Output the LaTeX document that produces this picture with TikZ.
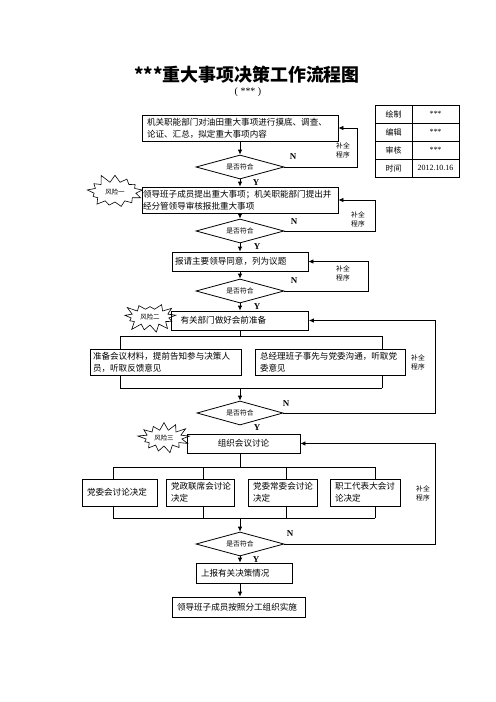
\documentclass[tikz,border=0pt]{standalone}
\usepackage{fontspec}
\setmainfont{Liberation Serif}
\newfontfamily\cjk{Noto Sans CJK SC}
\usetikzlibrary{shapes.geometric,shapes.symbols,arrows.meta}
\begin{document}
\begin{tikzpicture}[x=1bp,y=-1bp,line width=0.8bp,
  box/.style={draw, inner xsep=5bp, inner ysep=0bp, align=left, anchor=center,
    font=\cjk\fontsize{8.6}{12}\selectfont},
  cbox/.style={draw, inner sep=0bp, align=center, anchor=center,
    font=\cjk\fontsize{8.6}{12}\selectfont},
  dia/.style={diamond, draw, inner sep=0bp, aspect=3.5, minimum width=88bp, minimum height=24bp,
    font=\cjk\fontsize{6.8}{8}\selectfont},
  burst/.style={starburst, draw, fill=white, line width=0.6bp, starburst points=13,
    starburst point height=9bp, inner sep=0bp, minimum width=60bp, minimum height=38bp,
    font=\cjk\fontsize{6.5}{7}\selectfont},
  lbl/.style={font=\cjk\fontsize{6.8}{9}\selectfont, align=center, inner sep=0bp},
  yn/.style={font=\fontsize{9}{10}\selectfont\bfseries, inner sep=0bp},
  cell/.style={draw, line width=0.7bp, minimum height=18bp, inner sep=0bp, anchor=center,
    font=\fontsize{8}{9}\selectfont},
  arr/.style={-{Latex[length=5bp,width=4.5bp]}},
]
\useasboundingbox (0,0) rectangle (496,702);

% title
\node[font=\cjk\fontsize{18}{20}\selectfont\bfseries, inner sep=0] (title) at (247,75) {***重大事项决策工作流程图};
\node[font=\fontsize{10}{11}\selectfont, inner sep=0] (sub) at (248,92) {( *** )};

% info table
\node[cell, minimum width=37bp] (t11) at (393.5,114) {\cjk 绘制};
\node[cell, minimum width=47bp] (t12) at (435.5,114) {***};
\node[cell, minimum width=37bp] (t21) at (393.5,132) {\cjk 编辑};
\node[cell, minimum width=47bp] (t22) at (435.5,132) {***};
\node[cell, minimum width=37bp] (t31) at (393.5,150) {\cjk 审核};
\node[cell, minimum width=47bp] (t32) at (435.5,150) {***};
\node[cell, minimum width=37bp] (t41) at (393.5,168) {\cjk 时间};
\node[cell, minimum width=47bp] (t42) at (435.5,168) {2012.10.16};

% risk bursts
\node[burst, random starburst=11] (k1) at (115,192) {风险一};
\node[burst, random starburst=23, minimum width=56bp, minimum height=34bp] (k2) at (150,317) {风险二};
\node[burst, random starburst=37, minimum width=54bp, minimum height=34bp] (k3) at (164,438) {风险三};

% main boxes
\node[box, text width=186bp, minimum height=26bp] (b1) at (240,128)
  {机关职能部门对油田重大事项进行摸底、调查、\\论证、汇总，拟定重大事项内容};
\node[dia] (d1) at (240,167) {是否符合};
\node[box, inner xsep=1bp, text width=194bp, minimum height=26bp] (b2) at (240,200)
  {领导班子成员提出重大事项；机关职能部门提出并\\经分管领导审核报批重大事项};
\node[dia] (d2) at (240,231) {是否符合};
\node[box, inner xsep=3bp, text width=130bp, minimum height=19bp] (b3) at (240,261.5)
  {报请主要领导同意，列为议题};
\node[dia] (d3) at (240,291) {是否符合};
\node[box, inner xsep=9bp, text width=119bp, minimum height=19bp] (b4) at (240,320.5)
  {有关部门做好会前准备};
\node[box, inner xsep=3bp, text width=145bp, minimum height=26bp] (sa) at (165.5,362)
  {准备会议材料，提前告知参与决策人\\员，听取反馈意见};
\node[box, inner xsep=5bp, text width=140bp, minimum height=26bp] (sb) at (330,362)
  {总经理班子事先与党委沟通，听取党\\委意见};
\node[dia, minimum width=86bp] (d4) at (240,413) {是否符合};
\node[cbox, minimum width=113bp, minimum height=19bp] (b5) at (243.5,443.5) {组织会议讨论};
\node[box, text width=65bp, minimum height=27bp] (ba) at (119.5,492.5) {党委会讨论决定};
\node[box, text width=58bp, minimum height=27bp] (bb) at (200,492.5) {党政联席会讨论\\决定};
\node[box, text width=59bp, minimum height=27bp] (bc) at (282.5,492.5) {党委常委会讨论\\决定};
\node[box, text width=60bp, minimum height=27bp] (bd) at (365,492.5) {职工代表大会讨\\论决定};
\node[dia] (d5) at (240,544) {是否符合};
\node[box, text width=86bp, minimum height=20bp] (b6) at (244,573) {上报有关决策情况};
\node[box, text width=123bp, minimum height=20bp] (b7) at (238.5,607) {领导班子成员按照分工组织实施};

% forward arrows
\draw[arr] (b1) -- (d1);
\draw[arr] (d1) -- (b2);
\draw[arr] (b2) -- (d2);
\draw[arr] (d2) -- (b3);
\draw[arr] (b3) -- (d3);
\draw[arr] (d3) -- (b4);
\draw[arr] (d5.south) -- (d5.south |- b6.north);
\draw[arr] (d5.south |- b6.south) -- (d5.south |- b7.north);

% bracket after b4
\coordinate (p1) at (240,336);
\coordinate (pl) at (120,336);
\coordinate (pr) at (382,336);
\coordinate (q1) at (240,388);
\coordinate (ql) at (120,388);
\coordinate (qr) at (382,388);
\draw (b4.south -| p1) -- (p1);
\draw (pl) -- (pr);
\draw (pl) -- (pl |- sa.north);
\draw (pr) -- (pr |- sb.north);
\draw (ql |- sa.south) -- (ql);
\draw (qr |- sb.south) -- (qr);
\draw (ql) -- (qr);
\draw[arr] (q1) -- (d4);

% bracket after b5
\coordinate (u1) at (240,467);
\coordinate (ul) at (113,467);
\coordinate (ur) at (375,467);
\coordinate (v1) at (240,518);
\coordinate (vl) at (113,518);
\coordinate (vr) at (375,518);
\draw (u1 |- b5.south) -- (u1);
\draw (ul) -- (ur);
\foreach \x in {113,203,286,375}{
  \draw (\x,467) -- (\x,479);
  \draw (\x,506) -- (\x,518);
}
\draw (vl) -- (vr);
\draw[arr] (v1) -- (d5);

% feedback loops
\coordinate (r1) at (357,128);
\coordinate (r2) at (375,200);
\coordinate (r3) at (368,261.5);
\coordinate (r4) at (435,320.5);
\coordinate (r5) at (435,443.5);
\draw[arr] (d1.east) -| (r1) -- (b1.east);
\draw[arr] (d2.east) -| (r2) -- (b2.east);
\draw[arr] (d3.east) -| (r3) -- (b3.east);
\draw[arr] (d4.east) -| (r4) -- (b4.east);
\draw[arr] (d5.east) -| (r5) -- (b5.east);

% loop labels
\node[lbl] (l1) at (343,150) {补全\\程序};
\node[lbl] (l2) at (358,219) {补全\\程序};
\node[lbl] (l3) at (343,273) {补全\\程序};
\node[lbl] (l4) at (418,362) {补全\\程序};
\node[lbl] (l5) at (423,493) {补全\\程序};

% Y / N
\node[yn] (n1) at (293,157) {N};
\node[yn] (n2) at (294,222) {N};
\node[yn] (n3) at (294,281) {N};
\node[yn] (n4) at (286,404) {N};
\node[yn] (n5) at (290,534) {N};
\node[yn] (y1) at (256,183) {Y};
\node[yn] (y2) at (257,247) {Y};
\node[yn] (y3) at (257,307) {Y};
\node[yn] (y4) at (257,428) {Y};
\node[yn] (y5) at (256,560) {Y};
\end{tikzpicture}
\end{document}
